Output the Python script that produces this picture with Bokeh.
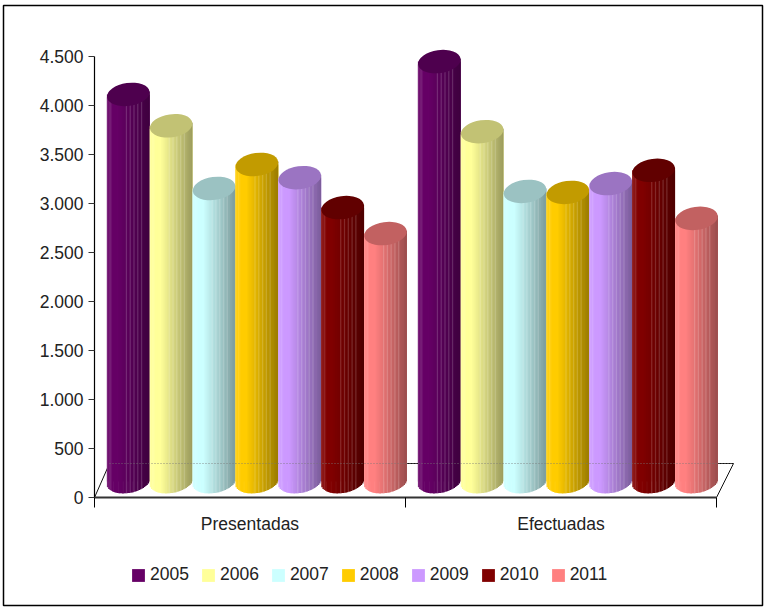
from bokeh.embed import file_html
from bokeh.resources import INLINE
from bokeh.plotting import figure
from bokeh.models import (Range1d, FixedTicker, Legend, LegendItem, BoxAnnotation)
import math

categories = ["Presentadas", "Efectuadas"]
years = ["2005", "2006", "2007", "2008", "2009", "2010", "2011"]
presentadas = [3950, 3630, 2990, 3235, 3100, 2795, 2530]
efectuadas = [4285, 3570, 2960, 2950, 3040, 3175, 2685]
colors = ["#660066", "#FFFF99", "#CCFFFF", "#FFCC00", "#CC99FF", "#800000", "#FF8080"]
y_ticks = [0, 500, 1000, 1500, 2000, 2500, 3000, 3500, 4000, 4500]
y_labels = ["0", "500", "1.000", "1.500", "2.000", "2.500", "3.000", "3.500", "4.000", "4.500"]

FONT = "Liberation Sans"
FS = "17.5px"
TEXT = "#222222"

W, H = 764, 608
LEFT = 94
ZERO_Y = 497  # canvas row of the value 0
GROUP_PX = 311.0
UNIT_PX = 49.0 / 500.0
PX_X = 1.0 / GROUP_PX
PX_Y = 1.0 / UNIT_PX

p = figure(width=W, height=H, output_backend="svg", toolbar_location=None,
           x_range=Range1d(-LEFT * PX_X, (W - LEFT) * PX_X),
           y_range=Range1d(-(H - ZERO_Y) * PX_Y, ZERO_Y * PX_Y),
           min_border_left=0, min_border_right=0,
           min_border_top=0, min_border_bottom=0,
           background_fill_color="white", border_fill_color="white",
           outline_line_color=None)
p.grid.visible = False

# axes
ya = p.yaxis[0]
ya.fixed_location = 0
ya.ticker = FixedTicker(ticks=y_ticks)
ya.major_label_overrides = {t: l for t, l in zip(y_ticks, y_labels)}
ya.bounds = (0, 4500)
ya.major_tick_out = 6
ya.major_tick_in = 0
ya.minor_tick_out = 0
ya.minor_tick_in = 0
ya.axis_line_color = "#000000"
ya.axis_line_width = 1.2
ya.major_tick_line_color = "#333333"
ya.major_label_standoff = 5
ya.major_label_text_font = FONT
ya.major_label_text_font_size = FS
ya.major_label_text_color = TEXT

xa = p.xaxis[0]
xa.fixed_location = 0
xa.ticker = FixedTicker(ticks=[0.5, 1.5], minor_ticks=[0, 1, 2])
xa.major_label_overrides = {0.5: categories[0], 1.5: categories[1]}
xa.bounds = (0, 2)
xa.major_tick_out = 0
xa.major_tick_in = 0
xa.minor_tick_out = 10
xa.minor_tick_in = 0
xa.minor_tick_line_color = "#000000"
xa.axis_line_color = "#333333"
xa.axis_line_width = 2
xa.major_label_standoff = 6
xa.major_label_text_font = FONT
xa.major_label_text_font_size = FS
xa.major_label_text_color = TEXT

# floor of the 3D box
depth_x = 15 * PX_X
depth_y = 34 * PX_Y
right_depth_x = 17 * PX_X
p.line([0, depth_x], [0, depth_y], line_color="#111111", line_width=1)
p.line([2, 2 + right_depth_x], [0, depth_y], line_color="#111111", line_width=1)
p.line([depth_x, 2 + right_depth_x], [depth_y, depth_y], line_color="#111111", line_width=1)


def shade(hex_color, factor, white=0.0):
    r, g, b = [int(hex_color[i:i + 2], 16) for i in (1, 3, 5)]
    out = []
    for c in (r, g, b):
        c = c * factor
        c = c + (255 - c) * white
        out.append(min(255, int(round(c))))
    return "#%02x%02x%02x" % tuple(out)


BAR_PX = 42.86
OFFSET_PX = 12.4
SEMI_B = 11.5
TILT_PX = 3.0
BASE = 16 * PX_Y
N = 34

series_values = [(a, b) for a, b in zip(presentadas, efectuadas)]
items = []

for i, (year, col) in enumerate(zip(years, colors)):
    vals = series_values[i]
    centers = [g + (OFFSET_PX + BAR_PX * (i + 0.5)) * PX_X for g in range(2)]
    base_r = p.quad(left=[c - BAR_PX / 2 * PX_X for c in centers],
                    right=[c + BAR_PX / 2 * PX_X for c in centers],
                    top=[BASE + v for v in vals], bottom=[BASE] * 2,
                    fill_color=col, line_color=None)
    items.append(LegendItem(label=year, renderers=[base_r]))

    l, r, t, b, fc = [], [], [], [], []
    for c, v in zip(centers, vals):
        for k in range(N):
            f0 = k / N
            f1 = (k + 1) / N
            u = 2 * (f0 + f1) / 2 - 1
            m = (f0 + f1) / 2
            factor = 1.0 if m < 0.25 else 1.0 - (m - 0.25) / 0.75 * 0.4
            white = 0.0
            if m < 0.12:
                white = 0.14 if k % 2 == 0 else 0.06
            elif 0.45 < m < 0.82 and k % 3 == 0:
                white = 0.16
            l.append(c + (f0 - 0.5) * BAR_PX * PX_X)
            r.append(c + (f1 - 0.5) * BAR_PX * PX_X + (0.6 * PX_X if k < N - 1 else 0))
            t.append(BASE + v + TILT_PX * u * PX_Y)
            b.append(BASE + (TILT_PX * u - SEMI_B * math.sqrt(max(0, 1 - u * u))) * PX_Y)
            fc.append(shade(col, factor, white))
    p.quad(left=l, right=r, top=t, bottom=b, fill_color=fc, line_color=None)
    p.ellipse(x=centers, y=[BASE + v for v in vals], width=BAR_PX, height=23,
              width_units="screen", height_units="screen",
              angle=math.radians(8), fill_color=shade(col, 0.76), line_color=None)

# the back edge of the floor shows through the bars as a faint dotted line
p.line([depth_x, 2 + right_depth_x], [depth_y, depth_y], line_color="#777777",
       line_width=1, line_dash="1 2", line_alpha=0.8)

legend = Legend(items=items, orientation="horizontal", location=(130, 23),
                background_fill_alpha=0, border_line_color=None,
                glyph_width=16, glyph_height=16, label_standoff=4, spacing=11,
                padding=0, margin=0,
                label_text_font=FONT, label_text_font_size=FS,
                label_text_color=TEXT)
p.add_layout(legend, "center")

p.add_layout(BoxAnnotation(left=3, right=762, top=5, bottom=605,
                           left_units="canvas", right_units="canvas",
                           top_units="canvas", bottom_units="canvas",
                           fill_color=None, fill_alpha=0,
                           line_color="#000000", line_alpha=1, line_width=1.5))

open("out.html", "w").write(file_html(p, INLINE))
